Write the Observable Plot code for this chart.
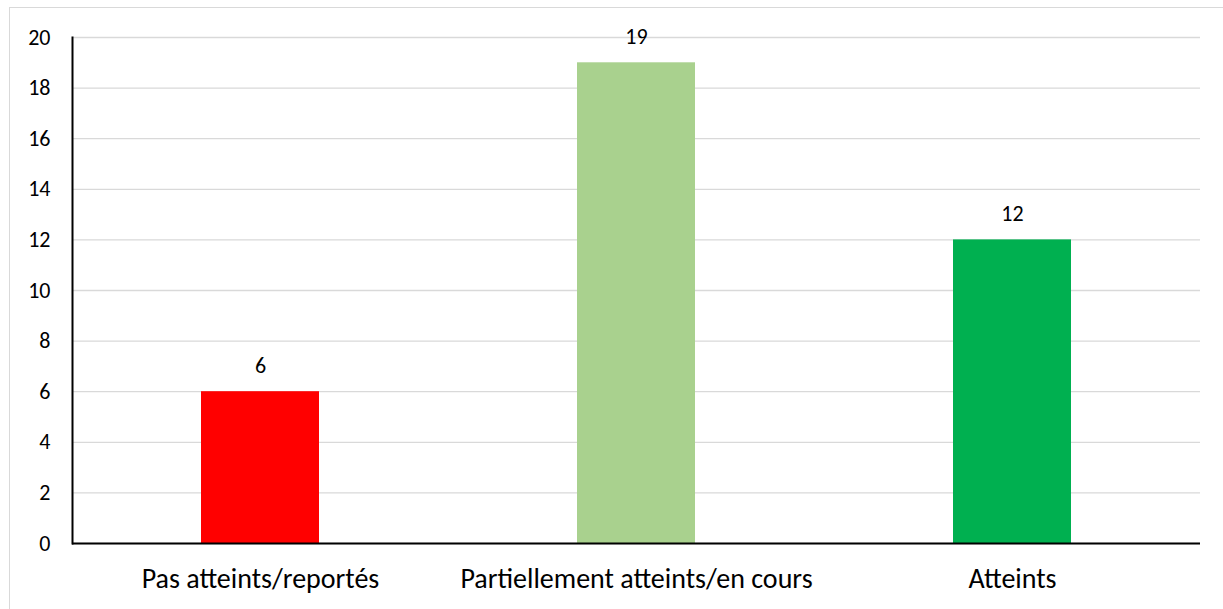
<!DOCTYPE html>
<html>
<head>
<meta charset="utf-8">
<script src="https://cdn.jsdelivr.net/npm/d3@7"></script>
<script src="https://cdn.jsdelivr.net/npm/@observablehq/plot@0.6"></script>
<style>
  html, body { margin: 0; padding: 0; background: #fff; }
  #wrap { position: relative; width: 1223px; height: 609px; overflow: hidden; }
  #border { position: absolute; left: 9px; top: 7px; width: 1240px; height: 640px; border: 1.5px solid #d9d9d9; box-sizing: border-box; pointer-events: none; }
  #chart { position: absolute; left: 0; top: 0; }
</style>
</head>
<body>
<div id="wrap"><div id="border"></div><div id="chart"></div></div>
<script>
const categories = ["Pas atteints/reportés", "Partiellement atteints/en cours", "Atteints"];
const values = [6, 19, 12];
const colors = ["#ff0000", "#a9d18e", "#00b050"];
const yTicks = [0, 2, 4, 6, 8, 10, 12, 14, 16, 18, 20];

const data = categories.map((c, i) => ({category: c, value: values[i], color: colors[i]}));
const font = "Carlito, Calibri, 'Liberation Sans', Arial, sans-serif";

const chart = Plot.plot({
  width: 1223,
  height: 609,
  marginLeft: 72,
  marginRight: 23,
  marginTop: 37,
  marginBottom: 66,
  style: {fontFamily: font, background: "transparent", color: "#000"},
  x: {domain: categories, paddingInner: 0.686, paddingOuter: 0.343, label: null},
  y: {domain: [0, 20], label: null},
  marks: [
    Plot.gridY(yTicks, {stroke: "#d9d9d9", strokeOpacity: 1, strokeWidth: 1.3}),
    Plot.barY(data, {x: "category", y: "value", fill: "color"}),
    Plot.text(data, {x: "category", y: "value", text: d => String(d.value), dy: -26, fontSize: 22, fill: "#000"}),
    Plot.axisY(yTicks, {tickSize: 0, tickPadding: 22, fontSize: 22, label: null, fill: "#000"}),
    Plot.axisX({tickSize: 0, tickPadding: 25, fontSize: 28, label: null, fill: "#000"}),
    Plot.ruleY([0], {stroke: "#000", strokeWidth: 2}),
    Plot.frame({anchor: "left", stroke: "#000", strokeWidth: 2})
  ]
});
document.getElementById("chart").appendChild(chart);
</script>
</body>
</html>
